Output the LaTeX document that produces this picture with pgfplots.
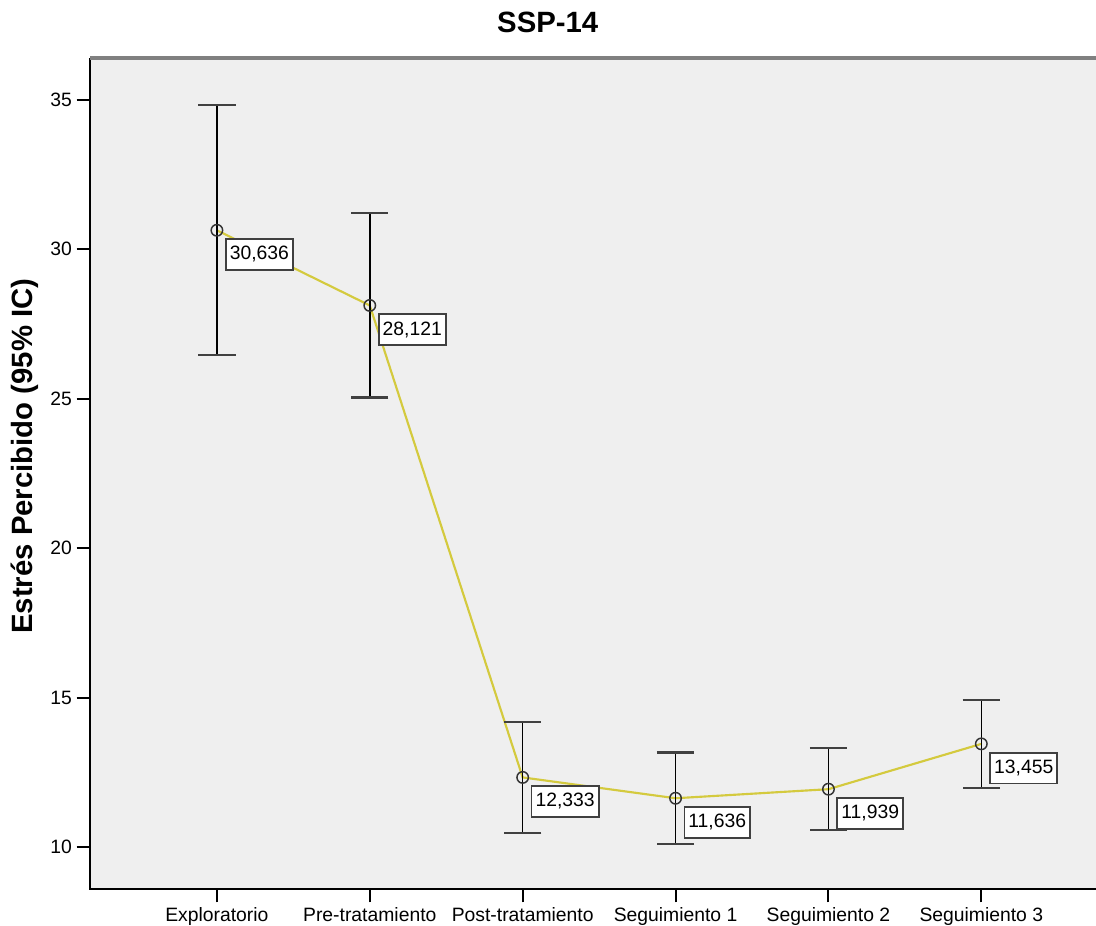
\documentclass[border=0pt]{standalone}
\usepackage{fontspec}
\setmainfont{Liberation Sans}
\usepackage{pgfplots}
\pgfplotsset{compat=1.18}
\usepackage{pgfplotstable}
\definecolor{bg}{RGB}{239,239,239}
\definecolor{lineyel}{RGB}{212,202,62}

\pgfplotstableread{
x y err label
0 30.636 4.18 30,636
1 28.121 3.08 28,121
2 12.333 1.86 12,333
3 11.636 1.53 11,636
4 11.939 1.37 11,939
5 13.455 1.47 13,455
}\data

\begin{document}
\begin{tikzpicture}
\begin{axis}[
  scale only axis, width=754.5pt, height=623.25pt,
  xmin=-0.83, xmax=5.75, ymin=8.6, ymax=36.4,
  xtick={0,1,2,3,4,5},
  xticklabels={Exploratorio,Pre-tratamiento,Post-tratamiento,Seguimiento 1,Seguimiento 2,Seguimiento 3},
  ytick={10,15,20,25,30,35},
  xtick pos=bottom, ytick pos=left,
  tick align=outside, major tick length=10pt,
  tick style={black, line width=1.5pt},
  axis line style={draw=none},
  axis background/.style={fill=bg},
  ticklabel style={font=\fontsize{14.5}{17}\selectfont},
  /pgf/number format/assume math mode=true,
  title={SSP-14},
  title style={font=\fontsize{22}{26}\selectfont\bfseries, at={(0.455,1)}, anchor=base, yshift=13pt},
  ylabel={Estrés Percibido (95\% IC)},
  ylabel style={font=\fontsize{22}{26}\selectfont\bfseries, at={(-0.0646,0.521)}, anchor=center},
  clip=false,
]
\draw[black, line width=1.2pt] (rel axis cs:0,1) -- (rel axis cs:0,0) -- (rel axis cs:1,0);
\draw[gray, line width=2.5pt] (rel axis cs:0,1) -- (rel axis cs:1,1);
\addplot[lineyel, line width=1.6pt, mark=o, mark size=4.3pt,
  mark options={black!80, line width=1.1pt, solid},
  error bars/.cd, y dir=both, y explicit,
  error bar style={black, line width=1.1pt},
  error mark options={rotate=90, mark size=14pt, line width=1.6pt, black!75}]
  table[x=x, y=y, y error=err]{\data};
\addplot[draw=none, mark=none, nodes near coords, point meta=explicit symbolic,
  nodes near coords style={anchor=north west, fill=white, draw=black!75, line width=1.3pt,
    inner xsep=3pt, inner ysep=5pt, text height=10.5pt, text depth=2.5pt,
    font=\fontsize{14.5}{17}\selectfont, xshift=6pt, yshift=-6pt}]
  table[x=x, y=y, meta=label]{\data};
\end{axis}
\pgfresetboundingbox
\path ([shift={(-67.5pt,-27pt)}]current axis.south west) rectangle ([shift={(0pt,43.5pt)}]current axis.north east);
\end{tikzpicture}
\end{document}
